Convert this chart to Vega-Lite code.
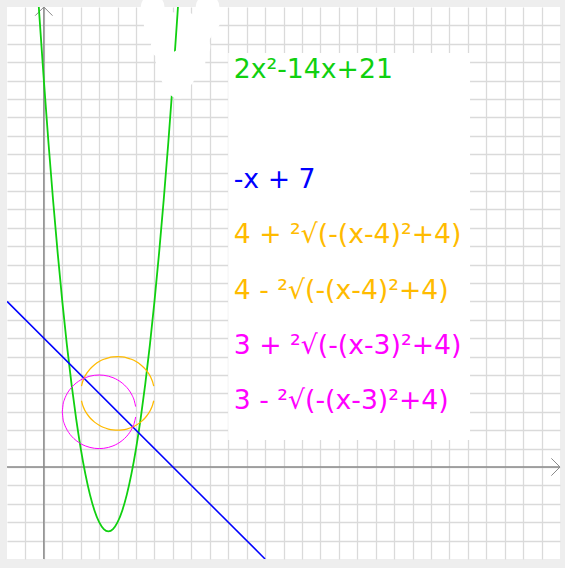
{
  "$schema": "https://vega.github.io/schema/vega-lite/v6.json",
  "width": 553,
  "height": 552,
  "padding": {"left": 7, "top": 7, "right": 5, "bottom": 9},
  "autosize": {"type": "none"},
  "background": "#eeeeee",
  "config": {"view": {"fill": "white", "stroke": null}},
  "datasets": {
    "curves": [
      {"curve":"p","fn":"p","x":-0.5,"y":28.5},{"curve":"p","fn":"p","x":-0.25,"y":24.625},{"curve":"p","fn":"p","x":0,"y":21},{"curve":"p","fn":"p","x":0.25,"y":17.625},{"curve":"p","fn":"p","x":0.5,"y":14.5},{"curve":"p","fn":"p","x":0.75,"y":11.625},{"curve":"p","fn":"p","x":1,"y":9},{"curve":"p","fn":"p","x":1.25,"y":6.625},{"curve":"p","fn":"p","x":1.5,"y":4.5},{"curve":"p","fn":"p","x":1.75,"y":2.625},{"curve":"p","fn":"p","x":2,"y":1},{"curve":"p","fn":"p","x":2.25,"y":-0.375},{"curve":"p","fn":"p","x":2.5,"y":-1.5},{"curve":"p","fn":"p","x":2.75,"y":-2.375},{"curve":"p","fn":"p","x":3,"y":-3},{"curve":"p","fn":"p","x":3.25,"y":-3.375},{"curve":"p","fn":"p","x":3.5,"y":-3.5},{"curve":"p","fn":"p","x":3.75,"y":-3.375},{"curve":"p","fn":"p","x":4,"y":-3},{"curve":"p","fn":"p","x":4.25,"y":-2.375},{"curve":"p","fn":"p","x":4.5,"y":-1.5},{"curve":"p","fn":"p","x":4.75,"y":-0.375},{"curve":"p","fn":"p","x":5,"y":1},{"curve":"p","fn":"p","x":5.25,"y":2.625},{"curve":"p","fn":"p","x":5.5,"y":4.5},{"curve":"p","fn":"p","x":5.75,"y":6.625},{"curve":"p","fn":"p","x":6,"y":9},{"curve":"p","fn":"p","x":6.25,"y":11.625},{"curve":"p","fn":"p","x":6.5,"y":14.5},{"curve":"p","fn":"p","x":6.75,"y":17.625},{"curve":"p","fn":"p","x":7,"y":21},{"curve":"p","fn":"p","x":7.25,"y":24.625},{"curve":"p","fn":"p","x":7.5,"y":28.5},
      {"curve":"l","fn":"l","x":-2,"y":9},{"curve":"l","fn":"l","x":12,"y":-5},
      {"curve":"ou","fn":"o","x":2.04,"y":4.398},{"curve":"ou","fn":"o","x":2.1,"y":4.6245},{"curve":"ou","fn":"o","x":2.2,"y":4.8718},{"curve":"ou","fn":"o","x":2.35,"y":5.1303},{"curve":"ou","fn":"o","x":2.5,"y":5.3229},{"curve":"ou","fn":"o","x":2.75,"y":5.5612},{"curve":"ou","fn":"o","x":3,"y":5.7321},{"curve":"ou","fn":"o","x":3.25,"y":5.854},{"curve":"ou","fn":"o","x":3.5,"y":5.9365},{"curve":"ou","fn":"o","x":3.75,"y":5.9843},{"curve":"ou","fn":"o","x":4,"y":6},{"curve":"ou","fn":"o","x":4.25,"y":5.9843},{"curve":"ou","fn":"o","x":4.5,"y":5.9365},{"curve":"ou","fn":"o","x":4.75,"y":5.854},{"curve":"ou","fn":"o","x":5,"y":5.7321},{"curve":"ou","fn":"o","x":5.25,"y":5.5612},{"curve":"ou","fn":"o","x":5.5,"y":5.3229},{"curve":"ou","fn":"o","x":5.65,"y":5.1303},{"curve":"ou","fn":"o","x":5.8,"y":4.8718},{"curve":"ou","fn":"o","x":5.9,"y":4.6245},{"curve":"ou","fn":"o","x":5.96,"y":4.398},
      {"curve":"ol","fn":"o","x":2.04,"y":3.602},{"curve":"ol","fn":"o","x":2.1,"y":3.3755},{"curve":"ol","fn":"o","x":2.2,"y":3.1282},{"curve":"ol","fn":"o","x":2.35,"y":2.8697},{"curve":"ol","fn":"o","x":2.5,"y":2.6771},{"curve":"ol","fn":"o","x":2.75,"y":2.4388},{"curve":"ol","fn":"o","x":3,"y":2.2679},{"curve":"ol","fn":"o","x":3.25,"y":2.146},{"curve":"ol","fn":"o","x":3.5,"y":2.0635},{"curve":"ol","fn":"o","x":3.75,"y":2.0157},{"curve":"ol","fn":"o","x":4,"y":2},{"curve":"ol","fn":"o","x":4.25,"y":2.0157},{"curve":"ol","fn":"o","x":4.5,"y":2.0635},{"curve":"ol","fn":"o","x":4.75,"y":2.146},{"curve":"ol","fn":"o","x":5,"y":2.2679},{"curve":"ol","fn":"o","x":5.25,"y":2.4388},{"curve":"ol","fn":"o","x":5.5,"y":2.6771},{"curve":"ol","fn":"o","x":5.65,"y":2.8697},{"curve":"ol","fn":"o","x":5.8,"y":3.1282},{"curve":"ol","fn":"o","x":5.9,"y":3.3755},{"curve":"ol","fn":"o","x":5.96,"y":3.602},
      {"curve":"mu","fn":"m","x":1,"y":3},{"curve":"mu","fn":"m","x":1.04,"y":3.398},{"curve":"mu","fn":"m","x":1.1,"y":3.6245},{"curve":"mu","fn":"m","x":1.2,"y":3.8718},{"curve":"mu","fn":"m","x":1.35,"y":4.1303},{"curve":"mu","fn":"m","x":1.5,"y":4.3229},{"curve":"mu","fn":"m","x":1.75,"y":4.5612},{"curve":"mu","fn":"m","x":2,"y":4.7321},{"curve":"mu","fn":"m","x":2.25,"y":4.854},{"curve":"mu","fn":"m","x":2.5,"y":4.9365},{"curve":"mu","fn":"m","x":2.75,"y":4.9843},{"curve":"mu","fn":"m","x":3,"y":5},{"curve":"mu","fn":"m","x":3.25,"y":4.9843},{"curve":"mu","fn":"m","x":3.5,"y":4.9365},{"curve":"mu","fn":"m","x":3.75,"y":4.854},{"curve":"mu","fn":"m","x":4,"y":4.7321},{"curve":"mu","fn":"m","x":4.25,"y":4.5612},{"curve":"mu","fn":"m","x":4.5,"y":4.3229},{"curve":"mu","fn":"m","x":4.65,"y":4.1303},{"curve":"mu","fn":"m","x":4.8,"y":3.8718},{"curve":"mu","fn":"m","x":4.9,"y":3.6245},{"curve":"mu","fn":"m","x":4.98,"y":3.2821},
      {"curve":"ml","fn":"m","x":1,"y":3},{"curve":"ml","fn":"m","x":1.04,"y":2.602},{"curve":"ml","fn":"m","x":1.1,"y":2.3755},{"curve":"ml","fn":"m","x":1.2,"y":2.1282},{"curve":"ml","fn":"m","x":1.35,"y":1.8697},{"curve":"ml","fn":"m","x":1.5,"y":1.6771},{"curve":"ml","fn":"m","x":1.75,"y":1.4388},{"curve":"ml","fn":"m","x":2,"y":1.2679},{"curve":"ml","fn":"m","x":2.25,"y":1.146},{"curve":"ml","fn":"m","x":2.5,"y":1.0635},{"curve":"ml","fn":"m","x":2.75,"y":1.0157},{"curve":"ml","fn":"m","x":3,"y":1},{"curve":"ml","fn":"m","x":3.25,"y":1.0157},{"curve":"ml","fn":"m","x":3.5,"y":1.0635},{"curve":"ml","fn":"m","x":3.75,"y":1.146},{"curve":"ml","fn":"m","x":4,"y":1.2679},{"curve":"ml","fn":"m","x":4.25,"y":1.4388},{"curve":"ml","fn":"m","x":4.5,"y":1.6771},{"curve":"ml","fn":"m","x":4.65,"y":1.8697},{"curve":"ml","fn":"m","x":4.8,"y":2.1282},{"curve":"ml","fn":"m","x":4.9,"y":2.3755},{"curve":"ml","fn":"m","x":4.98,"y":2.7179}
    ],
    "labels": [
      {"label":"2x²-14x+21","fn":"p","x":10.3,"y":21.15},
      {"label":"-x + 7","fn":"l","x":10.3,"y":15.15},
      {"label":"4 + ²√(-(x-4)²+4)","fn":"o","x":10.3,"y":12.15},
      {"label":"4 - ²√(-(x-4)²+4)","fn":"o","x":10.3,"y":9.15},
      {"label":"3 + ²√(-(x-3)²+4)","fn":"m","x":10.3,"y":6.15},
      {"label":"3 - ²√(-(x-3)²+4)","fn":"m","x":10.3,"y":3.15}
    ],
    "box": [{"x":10,"x2":23.12,"y":1.47,"y2":22.5}],
    "axes": [{"x":-2,"x2":28,"y":0,"y2":0},{"x":0,"x2":0,"y":-5,"y2":25}],
    "blobBack": [
      {"x":5.9,"y":25.01},{"x":8.88,"y":25.01},
      {"x":6.06,"y":24.09},{"x":6.88,"y":24.09},{"x":7.69,"y":24.09},{"x":8.5,"y":24.09},{"x":8.94,"y":24.3},
      {"x":6.17,"y":23.66},{"x":6.88,"y":23.66},{"x":7.69,"y":23.66},{"x":8.5,"y":23.66},
      {"x":6.44,"y":22.84},{"x":7.15,"y":22.84},{"x":7.96,"y":22.84},{"x":8.39,"y":22.84},
      {"x":8.12,"y":22.03},{"x":7.69,"y":21.5}
    ],
    "blobFront": [
      {"x":6.71,"y":22.03},{"x":7.42,"y":22.03},
      {"x":6.99,"y":21.21},{"x":7.53,"y":21.21},
      {"x":7.32,"y":20.67}
    ]
  },
  "encoding": {
    "x": {"field": "x", "type": "quantitative", "scale": {"domain": [-2, 28], "nice": false, "zero": false},
      "axis": {"title": null, "labels": false, "ticks": false, "domain": false, "grid": true, "gridColor": "#dadada", "gridWidth": 1.3,
        "values": [-1,0,1,2,3,4,5,6,7,8,9,10,11,12,13,14,15,16,17,18,19,20,21,22,23,24,25,26,27]}},
    "y": {"field": "y", "type": "quantitative", "scale": {"domain": [-5, 25], "nice": false, "zero": false},
      "axis": {"title": null, "labels": false, "ticks": false, "domain": false, "grid": true, "gridColor": "#dadada", "gridWidth": 1.3,
        "values": [-4,-3,-2,-1,0,1,2,3,4,5,6,7,8,9,10,11,12,13,14,15,16,17,18,19,20,21,22,23,24]}}
  },
  "layer": [
    {"data": {"name": "blobBack"}, "mark": {"type": "point", "shape": "circle", "filled": true, "color": "white", "opacity": 1, "size": 560, "clip": false}},
    {"data": {"name": "box"}, "mark": {"type": "rect", "color": "white"}, "encoding": {"x2": {"field": "x2"}, "y2": {"field": "y2"}}},
    {"data": {"name": "axes"}, "mark": {"type": "rule", "color": "#8a8a8a", "strokeWidth": 1.5}, "encoding": {"x2": {"field": "x2"}, "y2": {"field": "y2"}}},
    {"data": {"values": [{"x": 28, "y": 0}]}, "mark": {"type": "point", "shape": "M -1 -1 L 0 0 L -1 1", "filled": false, "color": "#8a8a8a", "strokeWidth": 1, "size": 300, "opacity": 1, "clip": false}},
    {"data": {"values": [{"x": 0, "y": 25}]}, "mark": {"type": "point", "shape": "M -1 1 L 0 0 L 1 1", "filled": false, "color": "#8a8a8a", "strokeWidth": 1, "size": 300, "opacity": 1, "clip": false}},
    {"data": {"name": "curves"}, "mark": {"type": "line", "interpolate": "monotone", "clip": true},
      "encoding": {
        "detail": {"field": "curve", "type": "nominal"},
        "color": {"field": "fn", "type": "nominal", "scale": {"domain": ["p","l","o","m"], "range": ["#10d010","#0000ff","#ffbb00","#ff00ff"]}, "legend": null},
        "strokeWidth": {"field": "fn", "type": "nominal", "scale": {"domain": ["p","l","o","m"], "range": [1.8, 1, 1.3, 1.3]}, "legend": null}
      }},
    {"data": {"name": "blobFront"}, "mark": {"type": "point", "shape": "circle", "filled": true, "color": "white", "opacity": 1, "size": 560, "clip": false}},
    {"data": {"name": "labels"}, "mark": {"type": "text", "align": "left", "baseline": "alphabetic", "font": "DejaVu Sans", "fontSize": 26.7},
      "encoding": {"text": {"field": "label"}, "color": {"field": "fn", "type": "nominal", "legend": null}}}
  ]
}
